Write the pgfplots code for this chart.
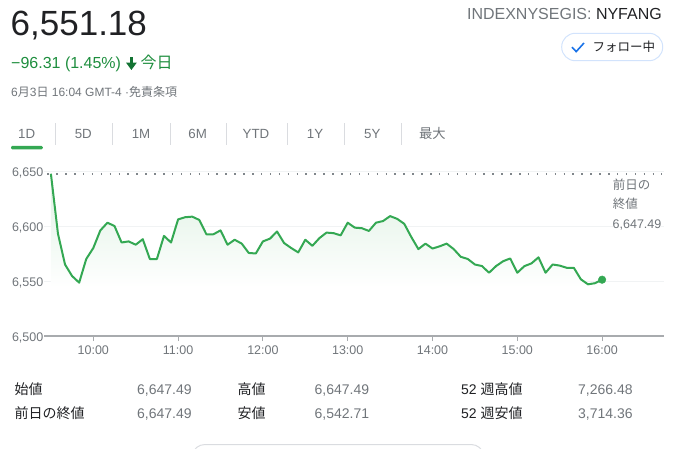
\documentclass[border=0pt]{standalone}
\usepackage{pgfplots}
\pgfplotsset{compat=1.18}
\usepackage{fontspec}
\setmainfont{Liberation Sans}
\newfontfamily\cjk{Noto Sans CJK JP}
\newcommand\J[1]{{\cjk #1}}
\definecolor{cGreen}{HTML}{34A853}
\definecolor{cGreenT}{HTML}{1E8E3E}
\definecolor{cGreenD}{HTML}{137333}
\definecolor{cDark}{HTML}{202124}
\definecolor{cGray}{HTML}{70757A}
\definecolor{cAxis}{HTML}{A8ABAE}
\definecolor{cGrid}{HTML}{F1F3F4}
\definecolor{cDot}{HTML}{80868B}
\definecolor{cSep}{HTML}{DADCE0}
\definecolor{cBtn}{HTML}{D2E3FC}
\definecolor{cBlue}{HTML}{1A73E8}
\pgfplotstableread{
t v
0 6647.49
5 6593
10 6565
15 6554.5
20 6548.5
25 6570
30 6580
35 6596
40 6603
45 6600
50 6585
55 6586
60 6583
65 6588
70 6570
75 6570
80 6591
85 6585
90 6606
95 6608
100 6608.5
105 6605.5
110 6592.5
115 6592.5
120 6596
125 6583
130 6587.5
135 6584
140 6575.5
145 6575
150 6586
155 6588.5
160 6595
165 6584.5
170 6580
175 6576
180 6587.5
185 6582
190 6589
195 6594
200 6593.5
205 6591.5
210 6603
215 6598.5
220 6598
225 6595.5
230 6603
235 6604.5
240 6609
245 6606.5
250 6602
255 6590
260 6579
265 6584
270 6579.5
275 6581.5
280 6584
285 6579
290 6572
295 6570
300 6565
305 6563.6
310 6557.5
315 6563.6
320 6568
325 6570.5
330 6557.5
335 6563.5
340 6566
345 6571.5
350 6557.5
355 6565
360 6564
365 6562
370 6562
375 6551.5
380 6547
385 6548
390 6551.18
}\pricedata
\begin{document}
\begin{tikzpicture}
\begin{scope}[x=1pt,y=1pt]
\path[use as bounding box] (0,0) rectangle (677,-449);
% header
\node[inner sep=0pt,anchor=base west,text=cDark] at (10.5,-36) {\fontsize{35}{40}\selectfont 6,551.18};
\node[inner sep=0pt,anchor=base west,text=cGreenT] at (11,-69) {\fontsize{16}{19}\selectfont −96.31 (1.45\%)};
\fill[cGreenD] (129.9,-56.8) rectangle (132.9,-64) -- cycle;
\fill[cGreenD] (126,-62.6) -- (136.8,-62.6) -- (131.4,-70) -- cycle;
\node[inner sep=0pt,anchor=base west,text=cGreenT] at (140.5,-69) {\fontsize{16}{19}\selectfont\J{今日}};
\node[inner sep=0pt,anchor=base west,text=cGray] at (11,-96.5) {\fontsize{12}{14}\selectfont 6\J{月}3\J{日} 16:04 GMT-4 ·\J{免責条項}};
\node[inner sep=0pt,anchor=base east] at (662,-19.5) {\fontsize{16}{19}\selectfont\textcolor{cGray}{INDEXNYSEGIS:} \textcolor{cDark}{NYFANG}};
\draw[cBtn,line width=1pt,rounded corners=13.5pt] (561.7,-33.3) rectangle (662.7,-60.7);
\draw[cBlue,line width=1.6pt] (572,-47.2) -- (576.2,-51.6) -- (584,-43);
\node[inner sep=0pt,anchor=west,text=cDark] at (592.5,-47) {\fontsize{12.5}{14}\selectfont\J{フォロー中}};
% tabs
\foreach \xx/\lab in {26.7/1D,83.3/5D,141/1M,197.7/6M,256/YTD,315/1Y,372.3/5Y}
  \node[inner sep=0pt,anchor=base,text=cGray] at (\xx,-138.7) {\fontsize{13.3}{15}\selectfont \lab};
\node[inner sep=0pt,anchor=base,text=cGray] at (432.3,-138.7) {\fontsize{13.3}{15}\selectfont\J{最大}};
\foreach \xx in {55,112.7,170,226.7,287.3,344.3,401.7}
  \draw[cSep,line width=0.9pt] (\xx,-123.3) -- (\xx,-144.7);
\fill[cGreen,rounded corners=1.4pt] (11,-149.5) rectangle (42.8,-145.8);
% table
\begin{scope}[every node/.style={inner sep=0pt,anchor=base west}]
\node[text=cDark] at (14.5,-394) {\fontsize{14}{16}\selectfont\J{始値}};
\node[text=cGray] at (137,-394) {\fontsize{14}{16}\selectfont 6,647.49};
\node[text=cDark] at (237.5,-394) {\fontsize{14}{16}\selectfont\J{高値}};
\node[text=cGray] at (314.4,-394) {\fontsize{14}{16}\selectfont 6,647.49};
\node[text=cDark] at (461,-394) {\fontsize{14}{16}\selectfont 52 \J{週高値}};
\node[text=cGray] at (578,-394) {\fontsize{14}{16}\selectfont 7,266.48};
\node[text=cDark] at (14.5,-418.3) {\fontsize{14}{16}\selectfont\J{前日の終値}};
\node[text=cGray] at (137,-418.3) {\fontsize{14}{16}\selectfont 6,647.49};
\node[text=cDark] at (237.5,-418.3) {\fontsize{14}{16}\selectfont\J{安値}};
\node[text=cGray] at (314.4,-418.3) {\fontsize{14}{16}\selectfont 6,542.71};
\node[text=cDark] at (461,-418.3) {\fontsize{14}{16}\selectfont 52 \J{週安値}};
\node[text=cGray] at (578,-418.3) {\fontsize{14}{16}\selectfont 3,714.36};
\end{scope}
\draw[cSep,line width=1pt] (193,-452) -- (193,-455) to[out=90,in=180] (205,-444.5) -- (471,-444.5) to[out=0,in=90] (483,-455);
\end{scope}
\begin{axis}[
  at={(44pt,-336pt)}, anchor=south west,
  scale only axis, width=620pt, height=165pt,
  xmin=-4.88, xmax=433.8, ymin=6500, ymax=6650,
  axis lines*=left,
  x axis line style={draw=cAxis, line width=1.8pt},
  y axis line style={draw=none},
  xtick={30,90,150,210,270,330,390},
  xticklabels={10:00,11:00,12:00,13:00,14:00,15:00,16:00},
  ytick={6500,6550,6600,6650},
  yticklabels={{6,500},{6,550},{6,600},{6,650}},
  tick label style={font=\fontsize{12.5}{14}\selectfont, text=cGray, inner sep=0pt},
  yticklabel style={anchor=east, xshift=4.5pt, yshift=-1.5pt},
  xticklabel style={anchor=north, yshift=-5pt},
  xtick style={draw=cAxis, line width=1pt},
  ytick style={draw=none},
  tick align=outside, major tick length=5pt,
  ymajorgrids, grid style={draw=cGrid, line width=0.9pt},
]
\addplot[draw=none, top color=cGreen!16, bottom color=white] table[x=t,y=v] {\pricedata} |- (axis cs:0,6544) -- cycle;
\addplot[color=cDot, line width=1.5pt, dash pattern=on 1.5pt off 7.4pt] coordinates {(-2.5,6647.49) (432.4,6647.49)};
\addplot[cGreen, line width=2pt, line join=round] table[x=t,y=v] {\pricedata};
\addplot[only marks, mark=*, mark size=3.8pt, color=cGreen] coordinates {(390,6551.18)};
\end{axis}
\begin{scope}[x=1pt,y=1pt]
% right label (over the grid)
\node[inner sep=0pt,anchor=base west,text=cGray,fill=white] at (612.7,-189.5) {\fontsize{12.5}{14}\selectfont\J{前日の}};
\node[inner sep=0pt,anchor=base west,text=cGray,fill=white] at (612.7,-208.5) {\fontsize{12.5}{14}\selectfont\J{終値}};
\node[inner sep=0pt,outer sep=0pt,anchor=base west,text=cGray,fill=white] at (612.7,-228.5) {\fontsize{12.5}{14}\selectfont\strut 6,647.49};
\end{scope}
\end{tikzpicture}
\end{document}
